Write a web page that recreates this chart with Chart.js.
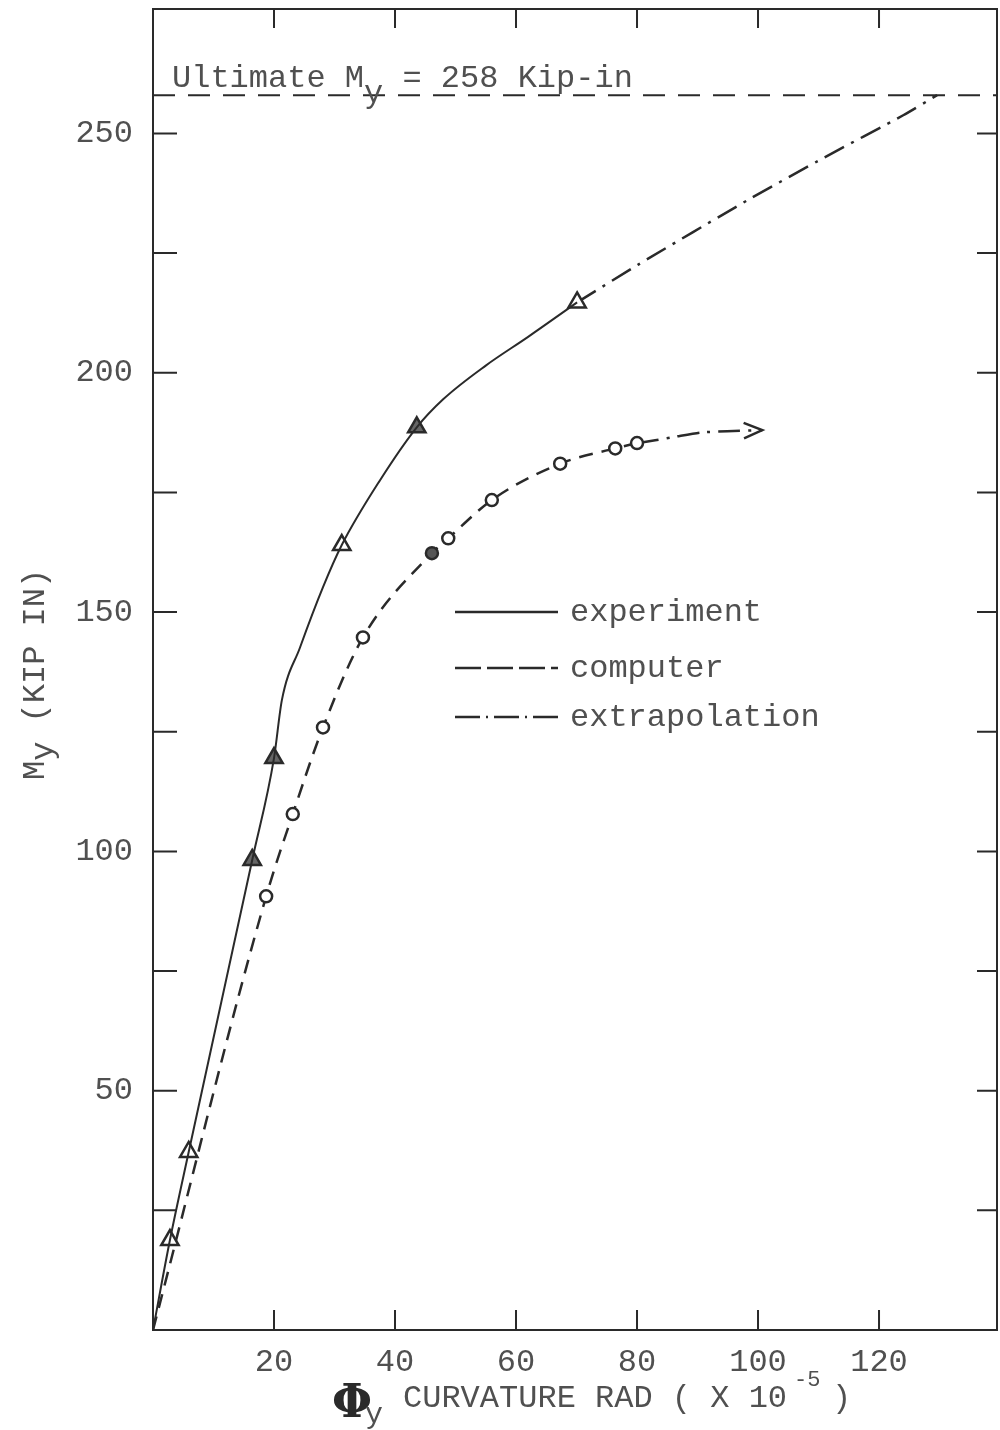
<!DOCTYPE html>
<html>
<head>
<meta charset="utf-8">
<title>Moment - curvature</title>
<script src="https://cdn.jsdelivr.net/npm/chart.js@4.4.0/dist/chart.umd.min.js"></script>
<style>
  html, body { margin: 0; padding: 0; background: #fff; }
  canvas { display: block; }
</style>
</head>
<body>
<canvas id="mphi" width="1000" height="1430"></canvas>
<script>
// measured points (triangles) from the test
const testCurv   = [2.8, 5.9, 16.4, 20.0, 31.2, 43.6, 70.1];
const testMoment = [18.8, 37.2, 98.2, 119.5, 164.0, 188.6, 214.7];

// experiment curve drawn through the test points
const expCurv   = [0, 2.8, 5.9, 16.4, 20.0, 21.3, 24.3, 28.1, 31.2, 37.5, 43.6, 48.0, 55.0, 62.0, 70.1];
const expMoment = [0, 18.8, 37.2, 98.2, 119.5, 131.6, 142.6, 155.2, 164.0, 177.5, 188.6, 194.5, 201.5, 207.5, 214.7];

// computer analysis (circles)
const compCurv   = [0, 18.7, 23.1, 28.1, 34.7, 46.1, 48.8, 56.0, 67.3, 76.4, 80.0];
const compMoment = [0, 90.6, 107.8, 125.9, 144.7, 162.3, 165.4, 173.4, 181.0, 184.2, 185.3];

// extrapolated branches
const expExtCurv    = [70.1, 80.2, 98.2, 111.0, 124.0, 129.6];
const expExtMoment  = [214.7, 222.6, 236.0, 245.0, 253.8, 258];
const compExtCurv   = [80.0, 83.0, 86.6, 90.5, 94.9, 100.7];
const compExtMoment = [185.3, 185.9, 186.7, 187.5, 187.8, 188.0];

const ultimateMoment = 258;

const xLabels = [20, 40, 60, 80, 100, 120];
const yLabels = [50, 100, 150, 200, 250];
const xMarks = [20, 40, 60, 80, 100, 120];
const yMarks = [25, 50, 75, 100, 125, 150, 175, 200, 225, 250];

const INK = '#2a2a2a';
const TYPE = '#505050';
const MONO = '"Liberation Mono", monospace';

const pts = (xs, ys) => xs.map((v, i) => ({ x: v, y: ys[i] }));

const noEdgePadding = s => {
  s.paddingTop = 0; s.paddingBottom = 0;
  s.paddingLeft = 0; s.paddingRight = 0;
};

const paperDecor = {
  id: 'paperDecor',
  afterDraw(chart) {
    const { ctx, chartArea: a, scales: { x, y } } = chart;
    ctx.save();

    // frame with inward ticks on all sides
    ctx.strokeStyle = INK;
    ctx.lineWidth = 2;
    ctx.setLineDash([]);
    ctx.strokeRect(a.left, a.top, a.right - a.left, a.bottom - a.top);
    ctx.beginPath();
    xMarks.forEach(v => {
      const px = x.getPixelForValue(v);
      ctx.moveTo(px, a.bottom); ctx.lineTo(px, a.bottom - 20);
      ctx.moveTo(px, a.top); ctx.lineTo(px, a.top + 19);
    });
    yMarks.forEach(v => {
      const py = y.getPixelForValue(v);
      ctx.moveTo(a.left, py); ctx.lineTo(a.left + 24, py);
      ctx.moveTo(a.right, py); ctx.lineTo(a.right - 20, py);
    });
    ctx.stroke();

    // arrow at the end of the computer extrapolation
    const meta = chart.getDatasetMeta(4).data;
    const tip = meta[meta.length - 1], prev = meta[meta.length - 2];
    const ang = Math.atan2(tip.y - prev.y, tip.x - prev.x);
    ctx.lineWidth = 2.5;
    ctx.beginPath();
    ctx.moveTo(tip.x - 20 * Math.cos(ang - 0.4), tip.y - 20 * Math.sin(ang - 0.4));
    ctx.lineTo(tip.x, tip.y);
    ctx.lineTo(tip.x - 20 * Math.cos(ang + 0.4), tip.y - 20 * Math.sin(ang + 0.4));
    ctx.stroke();

    ctx.fillStyle = TYPE;
    ctx.textBaseline = 'alphabetic';
    ctx.textAlign = 'left';

    // ultimate moment note, sitting on the dashed line
    ctx.font = '32px ' + MONO;
    let tx = 172;
    ctx.fillText('Ultimate M', tx, 87);
    tx += ctx.measureText('Ultimate M').width;
    ctx.fillText('y', tx, 102);
    tx += ctx.measureText('y').width;
    ctx.fillText(' = ' + ultimateMoment + ' Kip-in', tx, 87);

    // legend
    const legend = [
      { label: 'experiment', y: 612, dash: [] },
      { label: 'computer', y: 668, dash: [26, 6] },
      { label: 'extrapolation', y: 717, dash: [25, 6, 2, 6] }
    ];
    legend.forEach(item => {
      ctx.strokeStyle = INK;
      ctx.lineWidth = 2.5;
      ctx.setLineDash(item.dash);
      ctx.beginPath();
      ctx.moveTo(455, item.y);
      ctx.lineTo(558, item.y);
      ctx.stroke();
      ctx.fillText(item.label, 570, item.y + 9);
    });
    ctx.setLineDash([]);

    // x title
    ctx.fillStyle = INK;
    ctx.font = 'bold 46px "DejaVu Serif"';
    ctx.textAlign = 'center';
    ctx.fillText('\u03A6', 352, 1417);
    ctx.fillStyle = TYPE;
    ctx.font = '30px ' + MONO;
    ctx.fillText('y', 374, 1423);
    ctx.textAlign = 'left';
    ctx.font = '32px ' + MONO;
    ctx.fillText('CURVATURE RAD ( X 10', 403, 1407);
    ctx.font = '22px ' + MONO;
    ctx.fillText('-5', 794, 1386);
    ctx.font = '32px ' + MONO;
    ctx.fillText(')', 832, 1407);

    // y title, reading upward
    ctx.translate(44, 780);
    ctx.rotate(-Math.PI / 2);
    ctx.font = '32px ' + MONO;
    ctx.fillText('M', 0, 0);
    let ty = ctx.measureText('M').width;
    ctx.fillText('y', ty, 8);
    ty += ctx.measureText('y').width;
    ctx.fillText(' (KIP IN)', ty, 0);

    ctx.restore();
  }
};

new Chart(document.getElementById('mphi'), {
  type: 'line',
  data: {
    datasets: [
      {
        label: 'experiment',
        data: pts(expCurv, expMoment),
        borderColor: INK,
        borderWidth: 2,
        pointRadius: 0,
        cubicInterpolationMode: 'monotone',
        fill: false
      },
      {
        label: 'test points',
        data: pts(testCurv, testMoment),
        showLine: false,
        pointStyle: 'triangle',
        pointRadius: 10,
        pointBorderWidth: 2.5,
        pointBorderColor: INK,
        pointBackgroundColor: ['#fff', '#fff', '#666', '#666', '#fff', '#666', '#fff']
      },
      {
        label: 'computer',
        data: pts(compCurv, compMoment),
        borderColor: INK,
        borderWidth: 2.5,
        borderDash: [14, 9],
        cubicInterpolationMode: 'monotone',
        pointStyle: 'circle',
        pointRadius: [0, 6, 6, 6, 6, 6, 6, 6, 6, 6, 6],
        pointBorderWidth: 2.5,
        pointBorderColor: INK,
        pointBackgroundColor: ['#fff', '#fff', '#fff', '#fff', '#fff', '#555', '#fff', '#fff', '#fff', '#fff', '#fff'],
        fill: false
      },
      {
        label: 'extrapolation',
        data: pts(expExtCurv, expExtMoment),
        borderColor: INK,
        borderWidth: 2.5,
        borderDash: [22, 8, 3, 8],
        pointRadius: 0,
        tension: 0.2,
        fill: false
      },
      {
        label: 'computer extrapolation',
        data: pts(compExtCurv, compExtMoment),
        borderColor: INK,
        borderWidth: 2.5,
        borderDash: [22, 8, 3, 8],
        pointRadius: 0,
        tension: 0.2,
        fill: false
      },
      {
        label: 'ultimate',
        data: [{ x: 0, y: ultimateMoment }, { x: 139.5, y: ultimateMoment }],
        borderColor: INK,
        borderWidth: 2,
        borderDash: [22, 13],
        pointRadius: 0,
        fill: false
      }
    ]
  },
  options: {
    responsive: false,
    devicePixelRatio: 1,
    animation: false,
    layout: { autoPadding: false, padding: { left: 0, right: 3, top: 9, bottom: 0 } },
    plugins: {
      legend: { display: false },
      tooltip: { enabled: false }
    },
    scales: {
      x: {
        type: 'linear',
        min: 0,
        max: 139.5,
        grid: { display: false, drawTicks: false },
        border: { display: false },
        afterBuildTicks: s => { s.ticks = xLabels.map(v => ({ value: v })); },
        afterFit: s => { s.height = 100; noEdgePadding(s); },
        ticks: {
          padding: 13,
          maxRotation: 0,
          autoSkip: false,
          color: TYPE,
          font: { family: MONO, size: 32 }
        }
      },
      y: {
        type: 'linear',
        min: 0,
        max: 276,
        grid: { display: false, drawTicks: false },
        border: { display: false },
        afterBuildTicks: s => { s.ticks = yLabels.map(v => ({ value: v })); },
        afterFit: s => { s.width = 153; noEdgePadding(s); },
        ticks: {
          padding: 20,
          autoSkip: false,
          color: TYPE,
          font: { family: MONO, size: 32 }
        }
      }
    }
  },
  plugins: [paperDecor]
});
</script>
</body>
</html>
